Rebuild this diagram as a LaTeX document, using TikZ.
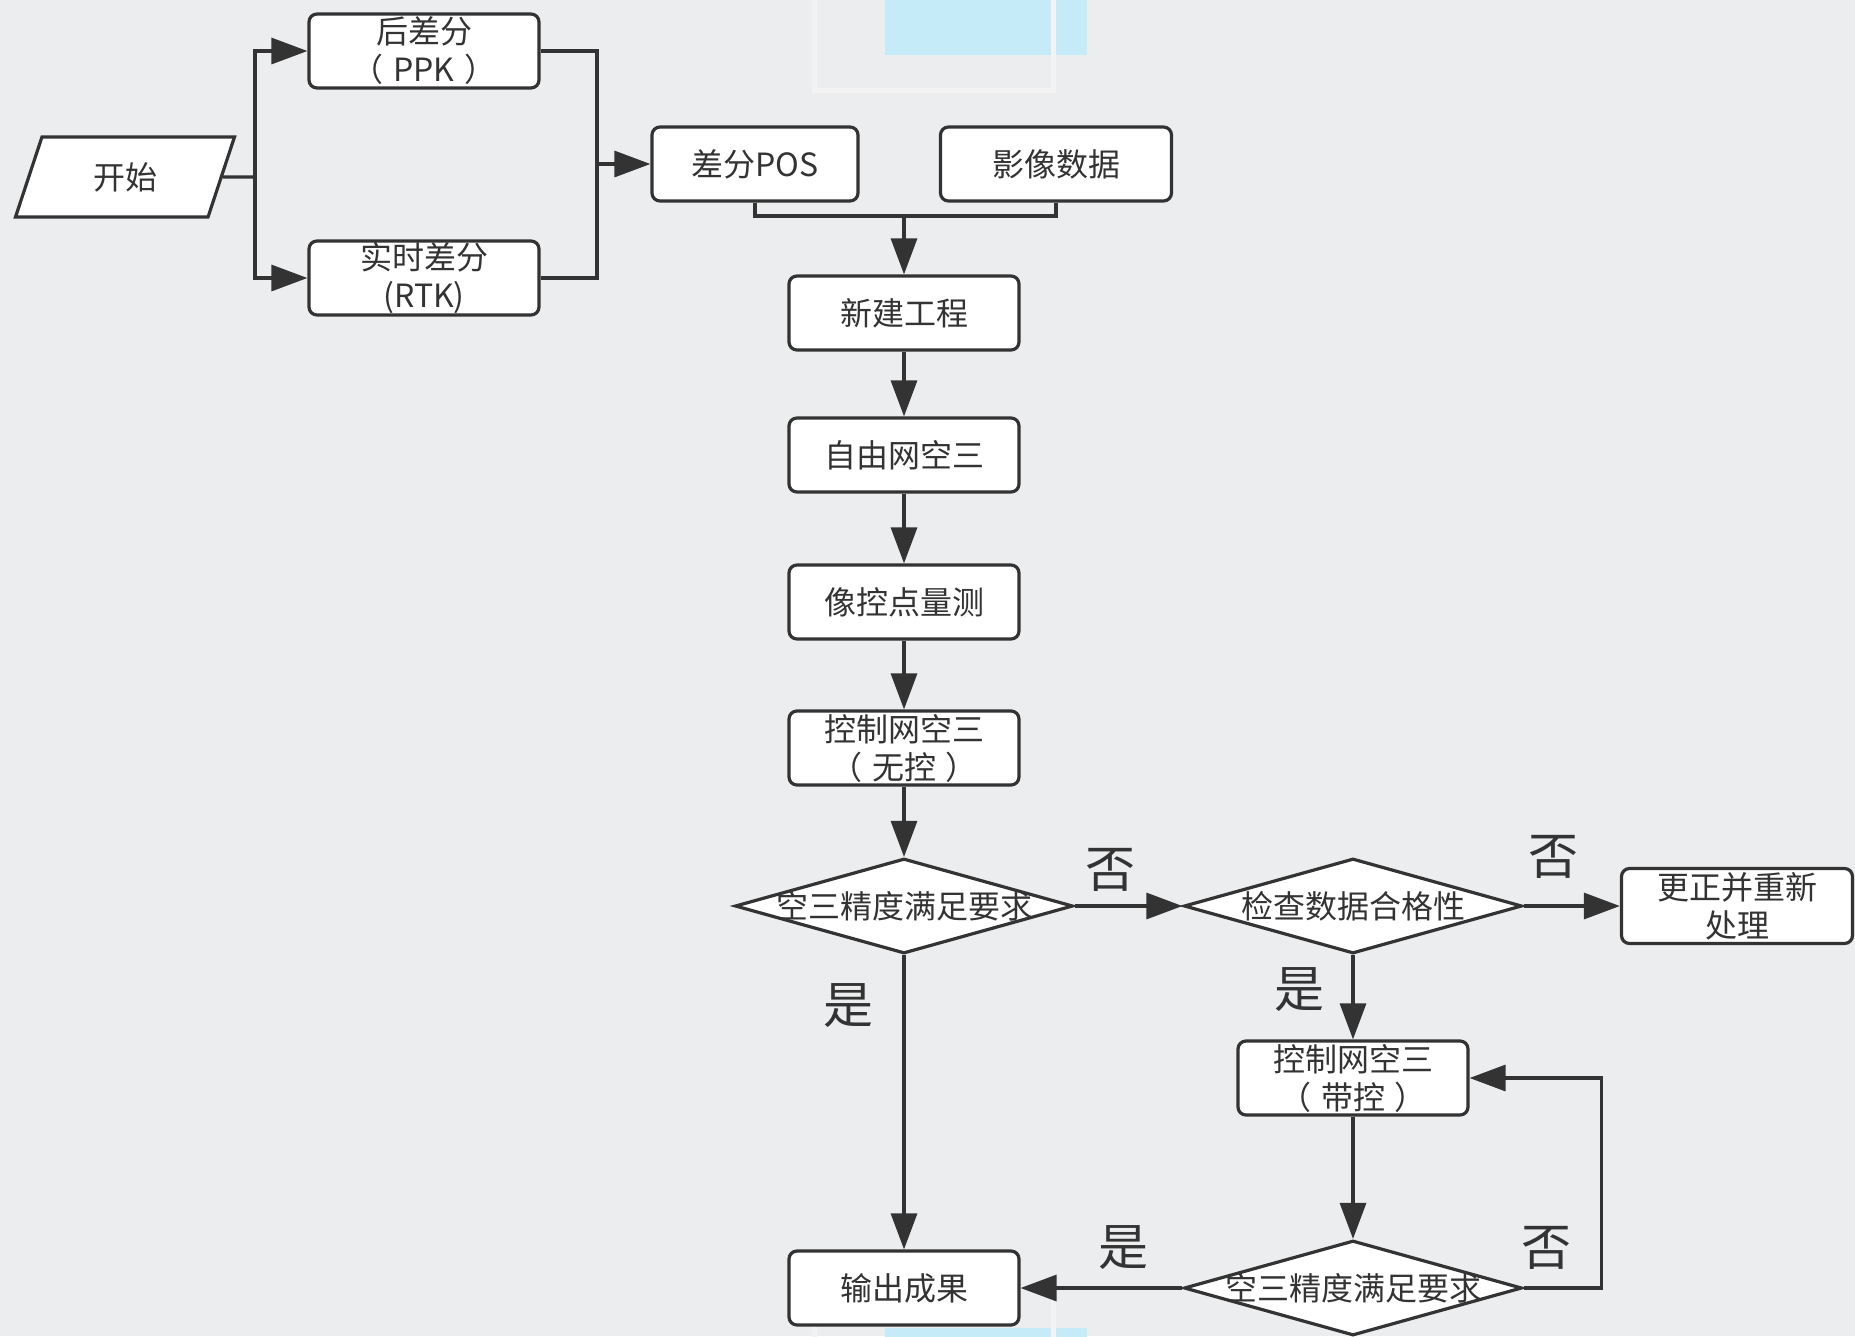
\documentclass[tikz,border=0pt]{standalone}
\usepackage{fontspec}
\setmainfont{Noto Sans CJK SC}
\usetikzlibrary{arrows.meta, shapes.geometric}

\definecolor{bgcol}{RGB}{236,237,239}
\definecolor{linecol}{RGB}{51,51,51}
\definecolor{framecol}{RGB}{243,243,243}
\definecolor{artblue}{RGB}{197,234,248}

\begin{document}
\begin{tikzpicture}[x=1pt, y=-1pt,
    line/.style={draw=linecol, line width=3.2pt},
    arr/.style={line, -{Triangle[length=36pt, width=26pt]}},
    box/.style={line, fill=white, rounded corners=8pt, text=linecol, minimum width=230pt, minimum height=74pt, inner sep=0pt, align=center, font=\fontsize{32}{38}\selectfont},
    dec/.style={line, fill=white, diamond, text=linecol, minimum width=338pt, minimum height=95pt, inner sep=0pt, font=\fontsize{32}{38}\selectfont},
    io/.style={line, fill=white, trapezium, trapezium left angle=71, trapezium right angle=109, trapezium stretches=true, text=linecol, minimum width=220pt, minimum height=80pt, inner sep=0pt, font=\fontsize{32}{38}\selectfont},
    lab/.style={text=linecol, inner sep=0pt, font=\fontsize{50}{50}\selectfont}]

    % background and the pale frames of the screenshot
    \fill [bgcol] (0,0) rectangle (1855,1336);
    \useasboundingbox (0,0) rectangle (1855,1336);
    \fill [artblue] (885,0) rectangle (1087,55);
    \draw [framecol, line width=5pt] (814.5,-10) -- (814.5,90.5) -- (1053.5,90.5) -- (1053.5,-10);
    \fill [artblue] (885,1328) rectangle (1087,1340);
    \draw [framecol, line width=5pt] (814.5,1290) -- (814.5,1340);
    \draw [framecol, line width=5pt] (1053.5,1290) -- (1053.5,1340);

    % nodes
    \node [io] (start) at (125,177) {开始};
    \node [box] (ppk) at (424,51) {后差分\\（\hspace{0.3em}PPK\hspace{0.3em}）};
    \node [box] (rtk) at (424,278) {实时差分\\(RTK)};
    \node [box, minimum width=206pt] (pos) at (755,164) {差分POS};
    \node [box, minimum width=231pt] (img) at (1056,164) {影像数据};
    \node [box] (newp) at (904,313) {新建工程};
    \node [box] (free) at (904,455) {自由网空三};
    \node [box] (gcp) at (904,602) {像控点量测};
    \node [box] (ctrla) at (904,748) {控制网空三\\（\hspace{0.3em}无控\hspace{0.3em}）};
    \node [dec] (acca) at (904,906) {\makebox[0pt]{空三精度满足要求}};
    \node [dec] (chk) at (1353,906) {\makebox[0pt]{检查数据合格性}};
    \node [box, minimum width=231pt, minimum height=75pt] (fix) at (1737,906) {更正并重新\\处理};
    \node [box] (ctrlb) at (1353,1078) {控制网空三\\（\hspace{0.3em}带控\hspace{0.3em}）};
    \node [dec] (accb) at (1353,1288) {\makebox[0pt]{空三精度满足要求}};
    \node [box] (out) at (904,1288) {输出成果};

    % connectors
    \coordinate (split) at (255,177);
    \coordinate (merge) at (597,164);
    \coordinate (join) at (904,216);
    \draw [line] (start.east) -- (split);
    \draw [arr] (split) |- (ppk.west);
    \draw [arr] (split) |- (rtk.west);
    \draw [line] (ppk.east) -| (merge) |- (rtk.east);
    \draw [arr] (merge) -- (pos.west);
    \draw [line] (pos.south) |- (join) -| (img.south);
    \draw [arr] (join) -- (newp.north);
    \draw [arr] (newp) -- (free);
    \draw [arr] (free) -- (gcp);
    \draw [arr] (gcp) -- (ctrla);
    \draw [arr] (ctrla) -- (acca);
    \draw [arr] (acca) -- (chk);
    \draw [arr] (acca) -- (out);
    \draw [arr] (chk) -- (fix);
    \draw [arr] (chk) -- (ctrlb);
    \draw [arr] (ctrlb) -- (accb);
    \draw [arr] (accb) -- (out);
    \draw [arr] (accb.east) -| ([xshift=132pt]ctrlb.east) -- (ctrlb.east);

    % branch labels
    \node [lab] (noa) at (1110,870) {否};
    \node [lab] (yesa) at (848,1006) {是};
    \node [lab] (nob) at (1553,857) {否};
    \node [lab] (yesb) at (1299,990) {是};
    \node [lab] (yesc) at (1123,1248) {是};
    \node [lab] (noc) at (1546,1248) {否};
\end{tikzpicture}
\end{document}
